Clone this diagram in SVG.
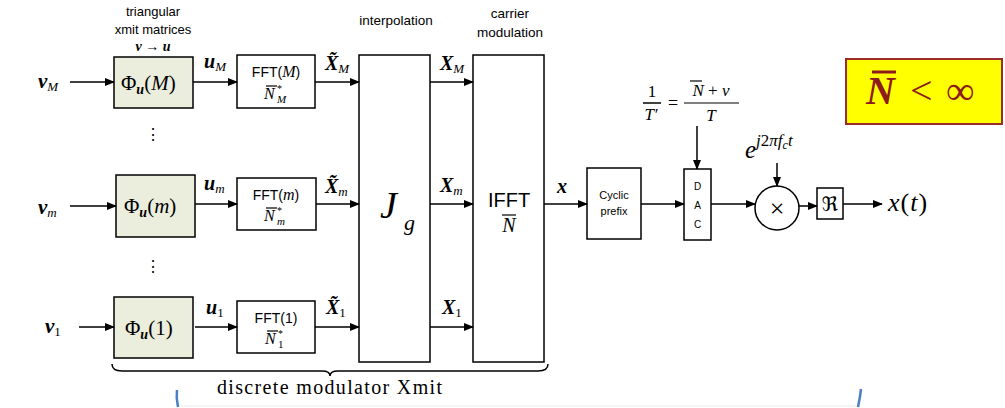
<svg xmlns="http://www.w3.org/2000/svg" width="1005" height="408" viewBox="0 0 1005 408">
<defs>
<marker id="ah" markerWidth="10" markerHeight="8" refX="9" refY="4" orient="auto" markerUnits="userSpaceOnUse">
<path d="M0,0 L10,4 L0,8 z" fill="#000"/>
</marker>
<style>
.box{fill:#fff;stroke:#000;stroke-width:1.5}
.phi{fill:#ebeedd;stroke:#000;stroke-width:1.5}
.ln{stroke:#000;stroke-width:1.5;fill:none}
.ar{stroke:#000;stroke-width:1.5;fill:none;marker-end:url(#ah)}
.s{font-family:"Liberation Sans",Arial,sans-serif;fill:#000}
.m{font-family:"Liberation Serif","Times New Roman",serif;fill:#000;font-style:italic}
.mb{font-family:"Liberation Serif","Times New Roman",serif;fill:#000;font-style:italic;font-weight:bold}
.r{font-family:"Liberation Serif","Times New Roman",serif;fill:#000}
.ob{stroke:#000;stroke-width:1.2}
</style>
</defs>
<rect width="1005" height="408" fill="#fff"/>

<!-- header labels -->
<g id="labels">
<text class="s" x="153" y="16" font-size="13" text-anchor="middle">triangular</text>
<text class="s" x="153" y="34" font-size="13" text-anchor="middle">xmit matrices</text>
<text class="mb" x="153" y="51" font-size="14" text-anchor="middle">v → u</text>
<text class="s" x="396" y="25" font-size="13.5" text-anchor="middle">interpolation</text>
<text class="s" x="510" y="18" font-size="13.5" text-anchor="middle">carrier</text>
<text class="s" x="510" y="37" font-size="13.5" text-anchor="middle">modulation</text>
<text class="mb" x="38" y="88" font-size="21">v<tspan class="m" font-weight="normal" font-size="13" dy="3">M</tspan></text>
<text class="mb" x="38" y="214" font-size="21">v<tspan class="m" font-weight="normal" font-size="13" dy="3">m</tspan></text>
<text class="mb" x="45" y="333" font-size="21">v<tspan class="r" font-style="normal" font-weight="normal" font-size="13" dy="3">1</tspan></text>
<text class="mb" x="204" y="68" font-size="20">u<tspan class="m" font-weight="normal" font-size="13" dy="3">M</tspan></text>
<text class="mb" x="204" y="190" font-size="20">u<tspan class="m" font-weight="normal" font-size="13" dy="3">m</tspan></text>
<text class="mb" x="206" y="314" font-size="20">u<tspan class="r" font-style="normal" font-weight="normal" font-size="13" dy="3">1</tspan></text>
<text class="mb" x="325" y="70" font-size="20">X̃<tspan class="m" font-weight="normal" font-size="13" dy="3">M</tspan></text>
<text class="mb" x="325" y="193" font-size="20">X̃<tspan class="m" font-weight="normal" font-size="13" dy="3">m</tspan></text>
<text class="mb" x="326" y="314" font-size="20">X̃<tspan class="r" font-style="normal" font-weight="normal" font-size="13" dy="3">1</tspan></text>
<text class="mb" x="440" y="70" font-size="20">X<tspan class="m" font-weight="normal" font-size="13" dy="3">M</tspan></text>
<text class="mb" x="440" y="192" font-size="20">X<tspan class="m" font-weight="normal" font-size="13" dy="3">m</tspan></text>
<text class="mb" x="442" y="314" font-size="20">X<tspan class="r" font-style="normal" font-weight="normal" font-size="13" dy="3">1</tspan></text>
<text class="mb" x="557" y="193" font-size="20">x</text>
<text class="r" x="153" y="140" font-size="16" text-anchor="middle">⋮</text>
<text class="r" x="153" y="272" font-size="16" text-anchor="middle">⋮</text>
</g>

<!-- phi nodes -->
<g id="phiM"><rect class="phi" x="114" y="57" width="79" height="51"/>
<text class="r" x="121" y="90" font-size="21">Φ<tspan class="mb" font-size="14" dy="4">u</tspan><tspan dy="-4">(</tspan><tspan class="m">M</tspan>)</text></g>
<g id="phim"><rect class="phi" x="116" y="175" width="79" height="62"/>
<text class="r" x="124" y="213" font-size="21">Φ<tspan class="mb" font-size="14" dy="4">u</tspan><tspan dy="-4">(</tspan><tspan class="m">m</tspan>)</text></g>
<g id="phi1"><rect class="phi" x="114" y="297" width="79" height="61"/>
<text class="r" x="125" y="335" font-size="21">Φ<tspan class="mb" font-size="14" dy="4">u</tspan><tspan dy="-4">(1)</tspan></text></g>

<!-- FFT nodes -->
<g id="fftM"><rect class="box" x="237" y="55" width="78" height="53"/>
<text class="s" x="276" y="77" font-size="14" text-anchor="middle">FFT(<tspan class="m" font-size="16">M</tspan>)</text>
<text class="m" x="264" y="99" font-size="16">N</text>
<text class="r" x="277" y="92" font-size="10">*</text>
<text class="m" x="277" y="103" font-size="11">M</text>
<line class="ob" x1="266" y1="86" x2="277" y2="86"/></g>
<g id="fftm"><rect class="box" x="237" y="178" width="79" height="52"/>
<text class="s" x="276" y="200" font-size="14" text-anchor="middle">FFT(<tspan class="m" font-size="16">m</tspan>)</text>
<text class="m" x="264" y="221" font-size="16">N</text>
<text class="r" x="277" y="214" font-size="10">*</text>
<text class="m" x="277" y="225" font-size="11">m</text>
<line class="ob" x1="266" y1="208" x2="277" y2="208"/></g>
<g id="fft1"><rect class="box" x="237" y="301" width="78" height="52"/>
<text class="s" x="276" y="323" font-size="14" text-anchor="middle">FFT(1)</text>
<text class="m" x="265" y="344" font-size="16">N</text>
<text class="r" x="278" y="337" font-size="10">*</text>
<text class="r" x="278" y="348" font-size="11">1</text>
<line class="ob" x1="267" y1="331" x2="278" y2="331"/></g>

<!-- interpolation -->
<g id="jg"><rect class="box" x="359" y="55" width="71" height="307"/>
<text class="m" x="380" y="218" font-size="38">J</text>
<text class="m" x="404" y="230" font-size="22">g</text></g>

<!-- IFFT -->
<g id="ifft"><rect class="box" x="473" y="55" width="71" height="307"/>
<text class="s" x="509" y="207" font-size="20" text-anchor="middle">IFFT</text>
<text class="m" x="509" y="232" font-size="20" text-anchor="middle">N</text>
<line class="ob" x1="502" y1="215" x2="516" y2="215"/></g>

<!-- cyclic prefix -->
<g id="cp"><rect class="box" x="587" y="168" width="54" height="71"/>
<text class="s" x="614" y="199" font-size="11" text-anchor="middle">Cyclic</text>
<text class="s" x="614" y="215" font-size="11" text-anchor="middle">prefix</text></g>

<!-- DAC -->
<g id="dac"><rect class="box" x="684" y="169" width="27" height="71"/>
<text class="s" x="697.5" y="190" font-size="10" text-anchor="middle">D</text>
<text class="s" x="697.5" y="209" font-size="10" text-anchor="middle">A</text>
<text class="s" x="697.5" y="228" font-size="10" text-anchor="middle">C</text></g>

<!-- mixer -->
<g id="mixer"><circle cx="777" cy="208" r="22" fill="#fff" stroke="#000" stroke-width="1.5"/>
<text class="r" x="777" y="217" font-size="26" text-anchor="middle">×</text></g>

<!-- real part -->
<g id="re"><rect class="box" x="817" y="188" width="26" height="31"/>
<text x="830" y="211" font-size="20" text-anchor="middle" font-family="'DejaVu Serif','DejaVu Sans',serif">ℜ</text></g>

<g id="output"><text class="m" x="888" y="211" font-size="26" letter-spacing="1">x<tspan font-style="normal">(</tspan>t<tspan font-style="normal">)</tspan></text></g>

<!-- rate formula -->
<g id="rate">
<text class="r" x="652" y="97" font-size="17" text-anchor="middle">1</text>
<line x1="643" y1="103" x2="661" y2="103" stroke="#000" stroke-width="1.5"/>
<text class="m" x="651" y="120" font-size="17" text-anchor="middle">T′</text>
<text class="r" x="673" y="109" font-size="18" text-anchor="middle">=</text>
<text class="m" x="711" y="96" font-size="17" text-anchor="middle">N<tspan font-style="normal"> + </tspan>ν</text>
<line class="ob" x1="690" y1="81" x2="702" y2="81"/>
<line x1="684" y1="103" x2="739" y2="103" stroke="#000" stroke-width="1.2"/>
<text class="m" x="711" y="121" font-size="17" text-anchor="middle">T</text>
</g>

<g id="carrier"><text class="m" x="745" y="158" font-size="25">e<tspan font-size="17" dy="-12">j</tspan><tspan font-style="normal" font-size="17">2</tspan><tspan font-size="17">πf</tspan><tspan font-size="12" dy="3">c</tspan><tspan font-size="17" dy="-3">t</tspan></text></g>

<!-- condition -->
<g id="cond"><rect x="846" y="59" width="156" height="65" fill="#ffff00" stroke="#9c2b2b" stroke-width="2"/>
<text x="866" y="104" font-size="40" fill="#8e1b1b" font-family="'Liberation Serif','Times New Roman',serif"><tspan font-style="italic" font-weight="bold">N</tspan><tspan x="910">&lt;</tspan><tspan x="946">∞</tspan></text>
<line x1="872" y1="72" x2="896" y2="72" stroke="#8e1b1b" stroke-width="3"/></g>

<!-- connectors -->
<g id="connectors">
<line class="ar" x1="70" y1="82" x2="114" y2="82"/>
<line class="ar" x1="70" y1="206" x2="116" y2="206"/>
<line class="ar" x1="79" y1="327" x2="114" y2="327"/>
<line class="ar" x1="193" y1="82" x2="237" y2="82"/>
<line class="ar" x1="195" y1="204" x2="237" y2="204"/>
<line class="ar" x1="195" y1="327" x2="237" y2="327"/>
<line class="ar" x1="315" y1="82" x2="359" y2="82"/>
<line class="ar" x1="316" y1="204" x2="359" y2="204"/>
<line class="ar" x1="315" y1="327" x2="359" y2="327"/>
<line class="ar" x1="430" y1="82" x2="473" y2="82"/>
<line class="ar" x1="430" y1="204" x2="473" y2="204"/>
<line class="ar" x1="430" y1="327" x2="473" y2="327"/>
<line class="ar" x1="544" y1="204" x2="587" y2="204"/>
<line class="ar" x1="641" y1="204" x2="684" y2="204"/>
<line class="ar" x1="711" y1="204" x2="755" y2="204"/>
<line class="ar" x1="799" y1="206" x2="817" y2="206"/>
<line class="ar" x1="843" y1="204" x2="882" y2="204"/>
<line class="ar" x1="697" y1="126" x2="697" y2="169"/>
<line class="ar" x1="777" y1="163" x2="777" y2="186"/>
</g>

<!-- brace -->
<g id="brace">
<path class="ln" d="M112,364 Q112,371 122,371 L322,371 Q330,371 330,376 Q330,371 338,371 L538,371 Q548,371 548,364"/>
<text x="217" y="394" font-size="20" textLength="225" lengthAdjust="spacing" font-family="'Liberation Serif','Times New Roman',serif">discrete modulator Xmit</text>
</g>

<g id="decor">
<line x1="178" y1="406" x2="860" y2="406" stroke="#ececec" stroke-width="1"/>
<path d="M177,390 Q176,398 178,407" stroke="#4a7fc4" stroke-width="2.5" fill="none"/>
<path d="M861,389 Q860,398 858,407" stroke="#4a7fc4" stroke-width="2.5" fill="none"/>
</g>
</svg>
